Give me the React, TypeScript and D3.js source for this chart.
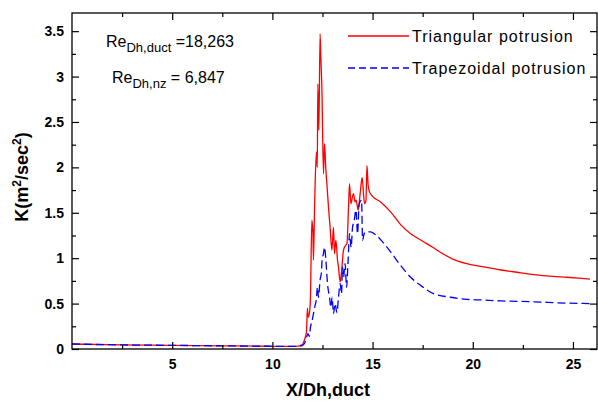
import React, { useEffect, useRef } from "react";
import * as d3 from "d3";

// Triangular potrusion (red, solid)
const triX = [
  0, 2.5, 5, 7.5, 10, 11.2, 11.5, 11.6, 11.7, 11.75, 11.78, 11.85, 11.9, 11.97,
  12.02, 12.05, 12.1, 12.13, 12.2, 12.24, 12.27, 12.32, 12.38, 12.42, 12.47,
  12.55, 12.6, 12.67, 12.72, 12.8, 12.88, 12.97, 13.05, 13.1, 13.17, 13.25, 13.3,
  13.38, 13.45, 13.55, 13.65, 13.72, 13.8, 13.85, 13.92, 14.0, 14.05, 14.12,
  14.18, 14.28, 14.38, 14.48, 14.55, 14.6, 14.67, 14.72, 14.78, 14.85, 15.0,
  15.4, 15.9, 16.4, 16.9, 17.4, 18.0, 18.5, 19.0, 19.7, 20.4, 21.4, 22.2, 23.05,
  24.0, 24.7, 25.3, 25.85,
];
const triK = [
  0.055, 0.045, 0.04, 0.035, 0.03, 0.03, 0.05, 0.1, 0.19, 0.45, 0.35, 0.4, 0.57,
  1.42, 1.3, 0.98, 1.5, 1.79, 2.17, 2.0, 2.92, 2.41, 3.47, 3.2, 2.88, 1.93, 2.26,
  1.97, 1.82, 1.56, 1.34, 1.09, 1.34, 1.05, 1.2, 0.98, 0.9, 0.74, 0.85, 1.09,
  1.14, 1.16, 1.56, 1.82, 1.6, 1.68, 1.71, 1.62, 1.64, 1.53, 1.71, 1.89, 1.7,
  1.6, 1.64, 2.02, 1.8, 1.73, 1.68, 1.62, 1.51, 1.37, 1.27, 1.2, 1.12, 1.05,
  0.99, 0.94, 0.91, 0.87, 0.845, 0.82, 0.8, 0.79, 0.78, 0.77,
];

// Trapezoidal potrusion (blue, dashed)
const trapX = [
  0, 2.5, 5, 7.5, 10, 11.3, 11.5, 11.6, 11.7, 11.77, 11.85, 11.9, 11.97, 12.05,
  12.12, 12.19, 12.25, 12.3, 12.38, 12.45, 12.48, 12.55, 12.6, 12.67, 12.75,
  12.85, 12.92, 12.98, 13.05, 13.13, 13.22, 13.3, 13.38, 13.45, 13.5, 13.55,
  13.63, 13.7, 13.78, 13.85, 13.93, 14.0, 14.08, 14.17, 14.25, 14.33, 14.45,
  14.5, 14.58, 14.65, 14.9, 15.2, 15.5, 15.9, 16.4, 16.9, 17.4, 18.04, 18.9,
  19.7, 20.4, 21.4, 23.05, 24.7, 25.85,
];
const trapK = [
  0.055, 0.045, 0.04, 0.035, 0.03, 0.03, 0.04, 0.06, 0.12, 0.17, 0.14, 0.24, 0.3,
  0.39, 0.47, 0.54, 0.68, 0.57, 0.76, 0.85, 0.98, 1.05, 1.12, 0.98, 0.72, 0.57,
  0.46, 0.57, 0.39, 0.5, 0.4, 0.57, 0.72, 0.61, 0.9, 0.79, 0.94, 0.68, 0.98,
  1.27, 1.12, 1.34, 1.41, 1.53, 1.27, 1.6, 1.64, 1.2, 1.27, 1.29, 1.29, 1.25,
  1.18, 1.07, 0.92, 0.79, 0.7, 0.61, 0.57, 0.547, 0.54, 0.53, 0.52, 0.505, 0.5,
];

const xMajor = [5, 10, 15, 20, 25];
const xMinor = [2.5, 7.5, 12.5, 17.5, 22.5];
const yMajor = [0, 0.5, 1, 1.5, 2, 2.5, 3, 3.5];
const yMinor = [0.25, 0.75, 1.25, 1.75, 2.25, 2.75, 3.25];

const seriesNames = ["Triangular potrusion", "Trapezoidal potrusion"];

const width = 598;
const height = 401;
const marginLeft = 72;
const marginTop = 13;
const marginRight = 1;
const marginBottom = 52;

const Chart = () => {
  const ref = useRef<SVGSVGElement>(null);

  useEffect(() => {
    const svg = d3.select(ref.current);
    svg.selectAll("*").remove();

    const x = d3
      .scaleLinear()
      .domain([0, 26.2])
      .range([marginLeft, width - marginRight]);
    const y = d3
      .scaleLinear()
      .domain([0, 3.7])
      .range([height - marginBottom, marginTop]);

    const font = "'Liberation Sans', Arial, sans-serif";
    const line = d3
      .line<[number, number]>()
      .x((d) => x(d[0]))
      .y((d) => y(d[1]))
      .curve(d3.curveMonotoneX);

    svg
      .append("clipPath")
      .attr("id", "plotclip")
      .append("rect")
      .attr("x", marginLeft)
      .attr("y", marginTop)
      .attr("width", width - marginRight - marginLeft)
      .attr("height", height - marginBottom - marginTop);

    const plot = svg.append("g").attr("clip-path", "url(#plotclip)");

    plot
      .append("path")
      .attr("d", line(triX.map((v, i) => [v, triK[i]])))
      .attr("fill", "none")
      .attr("stroke", "#ff0000")
      .attr("stroke-width", 1.3)
      .attr("stroke-linejoin", "round");

    plot
      .append("path")
      .attr("d", line(trapX.map((v, i) => [v, trapK[i]])))
      .attr("fill", "none")
      .attr("stroke", "#0000ff")
      .attr("stroke-width", 1.3)
      .attr("stroke-dasharray", "8,4");

    // axes with inward ticks
    const styleAxis = (g: any) => {
      g.select(".domain").remove();
      g.selectAll("line").attr("stroke", "#000").attr("stroke-width", 1.2);
      g.selectAll("text")
        .attr("font-family", font)
        .attr("font-size", 14)
        .attr("font-weight", "bold")
        .attr("fill", "#000");
    };

    const bottom = height - marginBottom;
    const right = width - marginRight;

    svg
      .append("g")
      .attr("transform", `translate(0,${bottom})`)
      .call(d3.axisBottom(x).tickValues(xMajor).tickSize(-7).tickPadding(10).tickFormat(d3.format("d")))
      .call(styleAxis);
    svg
      .append("g")
      .attr("transform", `translate(0,${bottom})`)
      .call(d3.axisBottom(x).tickValues(xMinor).tickSize(-4).tickFormat(() => ""))
      .call(styleAxis);
    svg
      .append("g")
      .attr("transform", `translate(0,${marginTop})`)
      .call(d3.axisTop(x).tickValues(xMajor).tickSize(-7).tickFormat(() => ""))
      .call(styleAxis);
    svg
      .append("g")
      .attr("transform", `translate(0,${marginTop})`)
      .call(d3.axisTop(x).tickValues(xMinor).tickSize(-4).tickFormat(() => ""))
      .call(styleAxis);

    svg
      .append("g")
      .attr("transform", `translate(${marginLeft},0)`)
      .call(d3.axisLeft(y).tickValues(yMajor).tickSize(-7).tickPadding(8).tickFormat((d: any) => String(d)))
      .call(styleAxis);
    svg
      .append("g")
      .attr("transform", `translate(${marginLeft},0)`)
      .call(d3.axisLeft(y).tickValues(yMinor).tickSize(-4).tickFormat(() => ""))
      .call(styleAxis);
    svg
      .append("g")
      .attr("transform", `translate(${right},0)`)
      .call(d3.axisRight(y).tickValues(yMajor).tickSize(-7).tickFormat(() => ""))
      .call(styleAxis);
    svg
      .append("g")
      .attr("transform", `translate(${right},0)`)
      .call(d3.axisRight(y).tickValues(yMinor).tickSize(-4).tickFormat(() => ""))
      .call(styleAxis);

    // frame
    svg
      .append("rect")
      .attr("x", marginLeft)
      .attr("y", marginTop)
      .attr("width", right - marginLeft)
      .attr("height", bottom - marginTop)
      .attr("fill", "none")
      .attr("stroke", "#000")
      .attr("stroke-width", 1.3);

    // axis titles
    svg
      .append("text")
      .attr("x", 328)
      .attr("y", 396)
      .attr("text-anchor", "middle")
      .attr("font-family", font)
      .attr("font-size", 18)
      .attr("font-weight", "bold")
      .text("X/Dh,duct");

    const yt = svg
      .append("text")
      .attr("transform", "translate(28,177) rotate(-90)")
      .attr("text-anchor", "middle")
      .attr("font-family", font)
      .attr("font-size", 18)
      .attr("font-weight", "bold");
    yt.append("tspan").text("K(m");
    yt.append("tspan").attr("font-size", 12).attr("dy", -7).text("2");
    yt.append("tspan").attr("dy", 7).text("/sec");
    yt.append("tspan").attr("font-size", 12).attr("dy", -7).text("2");
    yt.append("tspan").attr("dy", 7).text(")");

    // Reynolds annotations
    const ann = (tx: number, ty: number, sub: string, rest: string) => {
      const t = svg
        .append("text")
        .attr("x", tx)
        .attr("y", ty)
        .attr("font-family", font)
        .attr("font-size", 16)
        .attr("fill", "#000");
      t.append("tspan").text("Re");
      t.append("tspan").attr("font-size", 13).attr("dy", 5).text(sub);
      t.append("tspan").attr("dy", -5).text(rest);
    };
    ann(106, 47, "Dh,duct", " =18,263");
    ann(112, 83, "Dh,nz", " = 6,847");

    // legend
    const legend = svg.append("g");
    const colors = ["#ff0000", "#0000ff"];
    const dashes = [null, "7,4"];
    seriesNames.forEach((name, i) => {
      const ly = 36 + i * 32;
      legend
        .append("line")
        .attr("x1", 348)
        .attr("x2", 409)
        .attr("y1", ly)
        .attr("y2", ly)
        .attr("stroke", colors[i])
        .attr("stroke-width", 1.3)
        .attr("stroke-dasharray", dashes[i]);
      legend
        .append("text")
        .attr("x", 412)
        .attr("y", ly + 5.5)
        .attr("font-family", font)
        .attr("font-size", 16)
        .attr("letter-spacing", 1)
        .attr("fill", "#000")
        .text(name);
    });
  }, []);

  return <svg ref={ref} width={width} height={height} style={{ display: "block" }} />;
};

export default function App() {
  return (
    <div style={{ position: "absolute", left: 0, top: 0 }}>
      <Chart />
    </div>
  );
}
